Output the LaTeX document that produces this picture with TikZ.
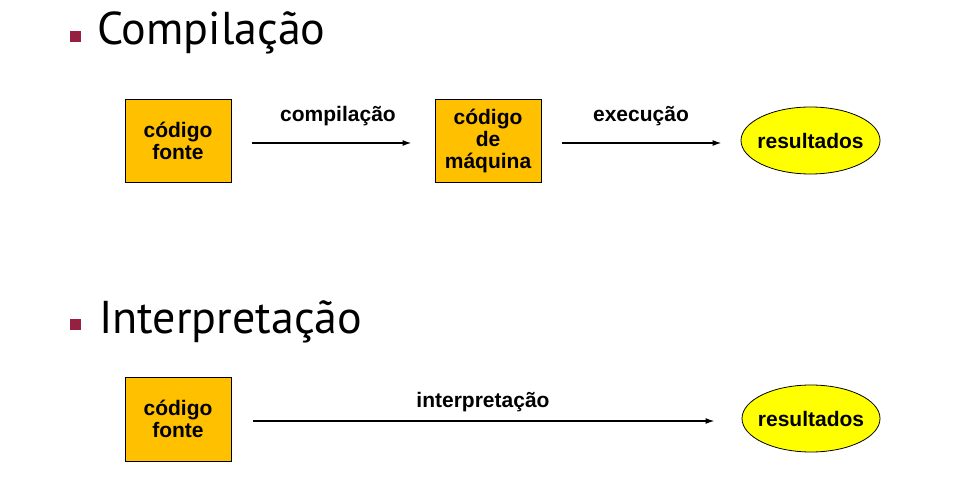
\documentclass[tikz,border=0pt]{standalone}
\usepackage{fontspec}
\setmainfont{Liberation Sans}
\newfontfamily\titlefont{PT Sans}
\usetikzlibrary{shapes.geometric,arrows.meta}
\definecolor{boxorange}{HTML}{FFC000}
\definecolor{ellyellow}{HTML}{FFFF00}
\definecolor{bulletred}{HTML}{952041}
\tikzset{
  codebox/.style={draw=black, line width=0.8pt, fill=boxorange, minimum width=106pt, minimum height=83pt, inner sep=0pt, align=center, font=\fontsize{21}{22}\selectfont\bfseries},
  resbox/.style={ellipse, draw=black, line width=0.8pt, fill=ellyellow, minimum width=139pt, minimum height=67pt, inner xsep=-8pt, inner ysep=0pt, font=\fontsize{21}{22}\selectfont\bfseries},
  flow/.style={draw=black, line width=1.6pt, -{Latex[length=9pt,width=6pt]}},
  flowlabel/.style={anchor=base, inner sep=0pt, font=\fontsize{21}{22}\selectfont\bfseries},
  bulletsq/.style={fill=bulletred, minimum size=11pt, inner sep=0pt},
  title/.style={anchor=base west, inner sep=0pt, font=\fontsize{46}{50}\titlefont}
}
\begin{document}
\begin{tikzpicture}[x=1pt,y=1pt]
\useasboundingbox[fill=white] (0,0) rectangle (960,482);
% titles
\node[bulletsq] (b1) at (75,445) {};
\node[title] (t1) at (97,437) {Compilação};
\node[bulletsq] (b2) at (75,157) {};
\node[title] (t2) at (99,149) {Interpretação};
% compilation row
\node[codebox] (cf1) at (178,341) {código\\fonte};
\node[codebox] (cm) at (488,341.5) {código\\de\\máquina};
\node[resbox] (r1) at (810.5,341.5) {resultados};
\draw[flow, shorten <=21pt, shorten >=23pt] ([yshift=-2pt]cf1.east) -- ([yshift=-2.5pt]cm.west);
\draw[flow, shorten <=21pt, shorten >=19pt] ([yshift=-2.5pt]cm.east) -- ([yshift=-2.5pt]r1.west);
\node[flowlabel] (l1) at (338,360) {compilação};
\node[flowlabel] (l2) at (641,360) {execução};
% interpretation row
\node[codebox, minimum height=84pt] (cf2) at (178,63) {código\\fonte};
\node[resbox, minimum width=138pt] (r2) at (811,63.5) {resultados};
\draw[flow, shorten <=22pt, shorten >=27pt] ([yshift=-2pt]cf2.east) -- ([yshift=-2.5pt]r2.west);
\node[flowlabel] (l3) at (483,75) {interpretação};
\end{tikzpicture}
\end{document}
